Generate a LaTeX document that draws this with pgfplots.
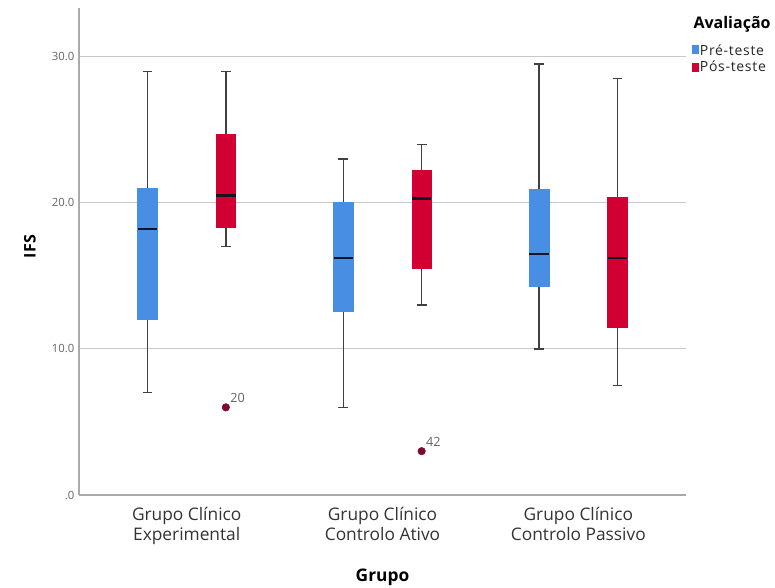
\documentclass[border=0pt]{standalone}
\usepackage{fontspec}
\setmainfont{Open Sans}
\newfontfamily\legfont[LetterSpace=5]{Open Sans}
\usepackage{pgfplots}
\usepgfplotslibrary{statistics}
\pgfplotsset{compat=1.18}
\definecolor{preblue}{RGB}{72,143,228}
\definecolor{posred}{RGB}{210,0,50}
\definecolor{medcol}{RGB}{20,20,40}
\definecolor{outcol}{RGB}{125,10,45}
\definecolor{axcol}{RGB}{170,170,170}
\definecolor{gridcol}{RGB}{200,200,200}
\definecolor{tickcol}{RGB}{100,100,100}
\begin{document}
\begin{tikzpicture}
\begin{axis}[
  scale only axis, width=455.25pt, height=365.25pt,
  at={(0,0)}, anchor=south west,
  xmin=0.45, xmax=3.55, ymin=0, ymax=33.33,
  axis lines=left, axis line style={draw=axcol, line width=1.2pt, -},
  xtick={1,2,3},
  xticklabels={{Grupo Clínico\\Experimental},{Grupo Clínico\\Controlo Ativo},{Grupo Clínico\\Controlo Passivo}},
  xticklabel style={align=center, font=\fontsize{13}{15}\selectfont, text=black!80, yshift=-6pt},
  ytick={0,10,20,30}, yticklabels={.0,10.0,20.0,30.0},
  yticklabel style={font=\fontsize{8.5}{10}\selectfont, text=tickcol},
  /pgf/number format/assume math mode=true,
  major tick length=0pt,
  ymajorgrids, grid style={draw=gridcol, line width=0.8pt},
  ylabel={\bfseries IFS},
  ylabel style={at={(axis description cs:-0.081,0.51)}, anchor=center, font=\fontsize{12}{13}\selectfont},
  xlabel={\bfseries Grupo},
  xlabel style={at={(axis description cs:0.5,-0.168)}, anchor=center, font=\fontsize{13}{14}\selectfont},
  boxplot/draw direction=y,
  boxplot/every whisker/.style={draw=black!75, line width=1pt},
  boxplot/every median/.style={draw=medcol, line width=1.7pt},
  clip=false,
]
% Grupo Clínico Experimental
\addplot[fill=preblue, draw=preblue, boxplot prepared={draw position=0.8, lower whisker=7, lower quartile=12, median=18.2, upper quartile=21, upper whisker=29, box extend=0.1, whisker extend=0.05}] coordinates {};
\addplot[fill=posred, draw=posred, mark=*, mark size=2.8pt, mark options={fill=outcol, draw=outcol}, boxplot prepared={draw position=1.2, lower whisker=17, lower quartile=18.3, median=20.5, upper quartile=24.7, upper whisker=29, box extend=0.1, whisker extend=0.05}] coordinates {(0,6)};
% Grupo Clínico Controlo Ativo
\addplot[fill=preblue, draw=preblue, boxplot prepared={draw position=1.8, lower whisker=6, lower quartile=12.55, median=16.2, upper quartile=20, upper whisker=23, box extend=0.1, whisker extend=0.05}] coordinates {};
\addplot[fill=posred, draw=posred, mark=*, mark size=2.8pt, mark options={fill=outcol, draw=outcol}, boxplot prepared={draw position=2.2, lower whisker=13, lower quartile=15.5, median=20.3, upper quartile=22.2, upper whisker=24, box extend=0.1, whisker extend=0.05}] coordinates {(0,3)};
% Grupo Clínico Controlo Passivo
\addplot[fill=preblue, draw=preblue, boxplot prepared={draw position=2.8, lower whisker=10, lower quartile=14.3, median=16.5, upper quartile=20.9, upper whisker=29.5, box extend=0.1, whisker extend=0.05}] coordinates {};
\addplot[fill=posred, draw=posred, boxplot prepared={draw position=3.2, lower whisker=7.5, lower quartile=11.5, median=16.2, upper quartile=20.4, upper whisker=28.5, box extend=0.1, whisker extend=0.05}] coordinates {};
% outlier labels
\node[anchor=south west, font=\fontsize{9.5}{10}\selectfont, text=tickcol, inner sep=1pt] at (axis cs:1.215,6.2) {20};
\node[anchor=south west, font=\fontsize{9.5}{10}\selectfont, text=tickcol, inner sep=1pt] at (axis cs:2.215,3.2) {42};
% legend
\node[anchor=west, inner sep=0pt, font=\bfseries\fontsize{12}{13}\selectfont] at (axis description cs:1.012,0.967) {Avaliação};
\fill[preblue] (axis description cs:1.0099,0.9056) rectangle ++(5pt,6.5pt);
\fill[posred] (axis description cs:1.0099,0.8686) rectangle ++(5pt,6.5pt);
\node[anchor=west, inner sep=0pt, font=\legfont\fontsize{10.5}{11}\selectfont, text=black!85] at (axis description cs:1.0225,0.9138) {Pré-teste};
\node[anchor=west, inner sep=0pt, font=\legfont\fontsize{10.5}{11}\selectfont, text=black!85] at (axis description cs:1.0225,0.880) {Pós-teste};
\end{axis}
\pgfresetboundingbox
\path (-59.25pt,-69.75pt) rectangle (522pt,371.25pt);
\end{tikzpicture}
\end{document}
